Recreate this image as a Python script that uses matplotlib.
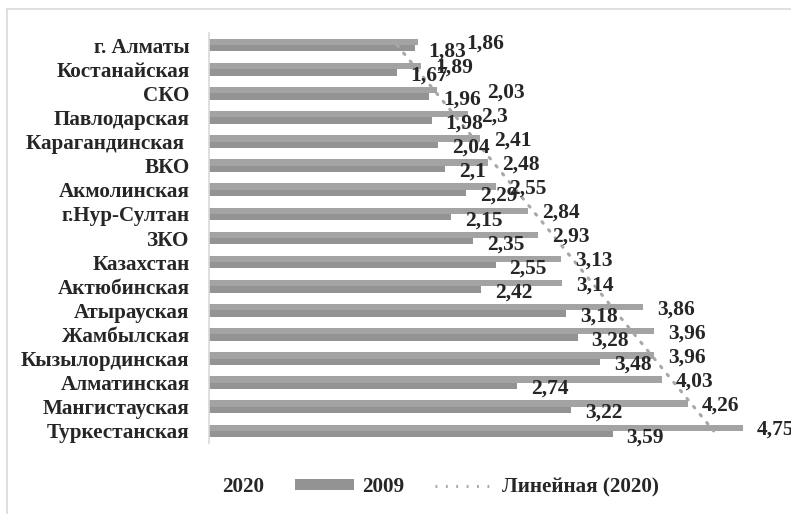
import numpy as np
import matplotlib
matplotlib.use("Agg")
import matplotlib.pyplot as plt
from matplotlib.patches import Patch
from matplotlib.lines import Line2D

categories = ["г. Алматы", "Костанайская", "СКО", "Павлодарская", "Карагандинская ",
              "ВКО", "Акмолинская", "г.Нур-Султан", "ЗКО", "Казахстан", "Актюбинская",
              "Атырауская", "Жамбылская", "Кызылординская", "Алматинская",
              "Мангистауская", "Туркестанская"]
values_2020 = [1.86, 1.89, 2.03, 2.3, 2.41, 2.48, 2.55, 2.84, 2.93, 3.13, 3.14,
               3.86, 3.96, 3.96, 4.03, 4.26, 4.75]
values_2009 = [1.83, 1.67, 1.96, 1.98, 2.04, 2.1, 2.29, 2.15, 2.35, 2.55, 2.42,
               3.18, 3.28, 3.48, 2.74, 3.22, 3.59]
series_names = ["2020", "2009", "Линейная (2020)"]

W, H = 791, 514
DPI = 100
plt.rcParams['font.family'] = ['Liberation Serif', 'DejaVu Serif']
plt.rcParams['font.weight'] = 'bold'
FS = 15.2
FSN = 15.5

fig = plt.figure(figsize=(W / DPI, H / DPI), dpi=DPI)
ax_left, ax_right_px = 209, 771
ax_top, ax_bot = 33, 443
ax = fig.add_axes([ax_left / W, 1 - ax_bot / H, (ax_right_px - ax_left) / W, (ax_bot - ax_top) / H])

n = len(categories)
y = np.arange(n)
bh = 0.263
c2020 = "#a3a3a3"
c2009 = "#939393"
ax.barh(y - bh / 2, values_2020, height=bh, color=c2020, zorder=2)
ax.barh(y + bh / 2, values_2009, height=bh, color=c2009, zorder=2)

# linear trend of 2020 series
coef = np.polyfit(y, values_2020, 1)
trend = np.polyval(coef, y)
tcol = "#a8a8a8"
ax.plot(trend, y, linestyle=(0, (0.6, 2.8)), color=tcol, lw=2.2, zorder=3,
        dash_capstyle='round')

ax.set_xlim(0, 5)
ax.set_ylim(n - 0.5, -0.5)
ax.set_yticks(y)
ax.set_yticklabels(categories, fontsize=FS, fontweight='bold', color="#262626")
ax.tick_params(axis='y', length=0, pad=14)
ax.set_xticks([])
for s in ['top', 'right', 'bottom']:
    ax.spines[s].set_visible(False)
ax.spines['left'].set_color("#d9d9d9")
ax.spines['left'].set_linewidth(1.2)

def fmt(v):
    return f"{v:g}".replace('.', ',')

extra_2020 = {0: 34, 2: 36}
for i, (a, b) in enumerate(zip(values_2020, values_2009)):
    dx = 14 + extra_2020.get(i, 0)
    ax.annotate(fmt(a), (a, i - bh / 2), xytext=(dx * 0.72, -1.5), textcoords='offset points',
                ha='left', va='center', fontsize=FSN, fontweight='bold', color="#262626",
                annotation_clip=False, zorder=4)
    ax.annotate(fmt(b), (b, i + bh / 2), xytext=(14 * 0.72, -2.2), textcoords='offset points',
                ha='left', va='center', fontsize=FSN, fontweight='bold', color="#262626",
                annotation_clip=False, zorder=4)

handles = [Patch(facecolor='none', edgecolor='none'),
           Patch(facecolor=c2009, edgecolor='none'),
           Line2D([0], [0], linestyle=(0, (0.6, 2.8)), color=tcol, lw=2.2)]
fig.legend(handles, series_names, loc='center', bbox_to_anchor=(407 / W, 1 - 487 / H),
           ncol=3, frameon=False, prop={'size': FS, 'weight': 'bold'}, labelcolor="#262626",
           handlelength=2.8, handleheight=0.4, handletextpad=0.34, columnspacing=1.5)

# outer chart frame (left and top edges visible)
fig.add_artist(Line2D([7 / W, 7 / W], [0, 1 - 9 / H], transform=fig.transFigure,
                      color="#d9d9d9", lw=1.2))
fig.add_artist(Line2D([7 / W, 1], [1 - 9 / H, 1 - 9 / H], transform=fig.transFigure,
                      color="#d9d9d9", lw=1.2))

fig.savefig("out.png", dpi=DPI, facecolor='white')
